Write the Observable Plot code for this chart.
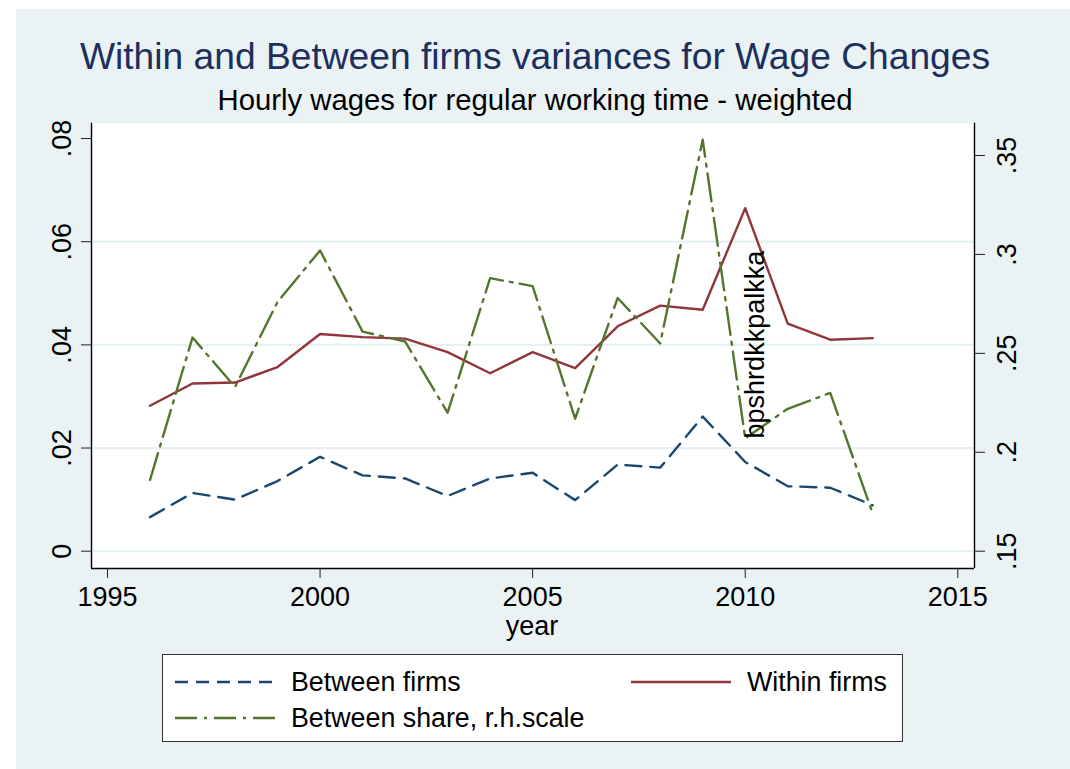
<!DOCTYPE html>
<html>
<head>
<meta charset="utf-8">
<script src="https://cdn.jsdelivr.net/npm/d3@7"></script>
<script src="https://cdn.jsdelivr.net/npm/@observablehq/plot@0.6"></script>
<style>
  body { margin: 0; background: #ffffff; }
  #wrap { position: relative; width: 1070px; height: 769px; overflow: hidden;
          font-family: Arial, "Liberation Sans", Helvetica, sans-serif; color: #000; }
  #bg { position: absolute; left: 16px; top: 9px; right: 0; bottom: 0; background: #eaf2f3; }
  #chart { position: absolute; left: 0; top: 0; }
  .t { position: absolute; white-space: nowrap; line-height: 1; }
  #title { left: 0; width: 1070px; text-align: center; top: 38px; font-size: 37.2px; color: #1c2f5e; }
  #subtitle { left: 0; width: 1070px; text-align: center; top: 85px; font-size: 29.3px; }
  #xlabel { left: 432px; width: 200px; text-align: center; top: 613px; font-size: 27px; }
  #legend { position: absolute; left: 162px; top: 654px; width: 741px; height: 88px;
            background: #fff; border: 1px solid #333; box-sizing: border-box; }
  .lt { position: absolute; font-size: 26.8px; line-height: 1; white-space: nowrap; }
  .sw { position: absolute; }
</style>
</head>
<body>
<div id="wrap">
  <div id="bg"></div>
  <div id="chart"></div>
  <div id="title" class="t"></div>
  <div id="subtitle" class="t"></div>
  <div id="xlabel" class="t"></div>
  <div id="legend"></div>
</div>
<script>
// ---- data ----
const years = [1996, 1997, 1998, 1999, 2000, 2001, 2002, 2003, 2004, 2005, 2006, 2007, 2008, 2009, 2010, 2011, 2012, 2013];
const betweenFirms = [0.0066, 0.0113, 0.0100, 0.0136, 0.0183, 0.0147, 0.0141, 0.0107, 0.0141, 0.0152, 0.0099, 0.0168, 0.0162, 0.0261, 0.0173, 0.0126, 0.0123, 0.0089];
const withinFirms  = [0.0282, 0.0325, 0.0327, 0.0357, 0.0421, 0.0415, 0.0412, 0.0386, 0.0345, 0.0386, 0.0355, 0.0436, 0.0476, 0.0468, 0.0665, 0.0441, 0.0410, 0.0413];
const betweenShare = [0.186, 0.258, 0.233, 0.276, 0.302, 0.261, 0.256, 0.220, 0.288, 0.284, 0.217, 0.278, 0.255, 0.358, 0.207, 0.222, 0.230, 0.169];

const seriesNames = ["Between firms", "Within firms", "Between share, r.h.scale"];
const seriesColors = ["#1a476f", "#90353b", "#55752f"];
const xTicks = [1995, 2000, 2005, 2010, 2015];
const leftTicks = [0, 0.02, 0.04, 0.06, 0.08];
const leftTickLabels = ["0", ".02", ".04", ".06", ".08"];
const rightTicks = [0.15, 0.2, 0.25, 0.3, 0.35];
const rightTickLabels = [".15", ".2", ".25", ".3", ".35"];
const gridTicks = [0, 0.02, 0.04, 0.06];
const annotationYear = 2010;
const annotationText = "bpshrdkkpalkka";
const titleText = "Within and Between firms variances for Wage Changes";
const subtitleText = "Hourly wages for regular working time - weighted";
const xLabelText = "year";

// ---- scales ----
const xDomain = [1994.624, 2015.393];
const yDomain = [-0.003354, 0.08297];
// right-hand scale mapped onto left-hand units
const rightBase = 0.15, rightFactor = 0.38353;
const toLeft = v => (v - rightBase) * rightFactor;
const rightTicksLeft = rightTicks.map(toLeft);

const rows = years.map((yr, i) => ({
  year: yr, between: betweenFirms[i], within: withinFirms[i], share: toLeft(betweenShare[i])
}));
const annotationRow = rows[years.indexOf(annotationYear)];

const font = 'Arial, "Liberation Sans", Helvetica, sans-serif';

const chart = Plot.plot({
  width: 1070, height: 769,
  marginTop: 122.7, marginBottom: 201, marginLeft: 91, marginRight: 96,
  style: { background: "transparent", fontFamily: font, fontSize: "27px", color: "#000", overflow: "visible" },
  x: { domain: xDomain },
  y: { domain: yDomain },
  marks: [
    Plot.frame({ fill: "white", stroke: "none" }),
    Plot.gridY(gridTicks, { stroke: "#e6eff2", strokeOpacity: 1, strokeWidth: 2.2 }),
    Plot.ruleX([xDomain[0]], { stroke: "#000", strokeWidth: 1.4 }),
    Plot.ruleX([xDomain[1]], { stroke: "#000", strokeWidth: 1.4 }),
    Plot.ruleY([yDomain[0]], { stroke: "#000", strokeWidth: 1.4 }),
    Plot.axisX(xTicks, { anchor: "bottom", tickSize: 10, tickPadding: 8, fontSize: 27,
      tickFormat: d => String(d), label: null, stroke: "#222" }),
    Plot.axisY(leftTicks, { anchor: "left", tickSize: 10, tickPadding: 11, tickRotate: -90, fontSize: 27,
      tickFormat: d => leftTickLabels[leftTicks.indexOf(d)], label: null, stroke: "#222" }),
    Plot.axisY(rightTicksLeft, { anchor: "right", tickSize: 10, tickPadding: 12, tickRotate: -90, lineAnchor: "top",
      fontSize: 27, tickFormat: d => rightTickLabels[rightTicksLeft.indexOf(d)], label: null, stroke: "#222" }),
    Plot.line(rows, { x: "year", y: "between", stroke: seriesColors[0], strokeWidth: 2.4, strokeDasharray: "16,9" }),
    Plot.line(rows, { x: "year", y: "within", stroke: seriesColors[1], strokeWidth: 2.4 }),
    Plot.line(rows, { x: "year", y: "share", stroke: seriesColors[2], strokeWidth: 2.4, strokeDasharray: "28,7,3,7" }),
    Plot.text([annotationRow], { x: "year", y: "share", text: () => annotationText, rotate: -90,
      textAnchor: "start", lineAnchor: "top", fontSize: 27, fill: "#000" })
  ]
});
document.getElementById("chart").appendChild(chart);

document.getElementById("title").textContent = titleText;
document.getElementById("subtitle").textContent = subtitleText;
document.getElementById("xlabel").textContent = xLabelText;

// ---- legend ----
const legend = document.getElementById("legend");
const legendItems = [
  { name: seriesNames[0], color: seriesColors[0], dash: "13,8", sx: 12, tx: 128, ty: 14, ly: 27 },
  { name: seriesNames[1], color: seriesColors[1], dash: null,   sx: 468, tx: 584, ty: 14, ly: 27 },
  { name: seriesNames[2], color: seriesColors[2], dash: "22,7,3,7", sx: 12, tx: 128, ty: 50, ly: 63 }
];
for (const it of legendItems) {
  const svg = d3.create("svg").attr("class", "sw").attr("width", 102).attr("height", 10)
    .style("left", it.sx + "px").style("top", (it.ly - 5) + "px");
  svg.append("line").attr("x1", 0).attr("x2", 100).attr("y1", 5).attr("y2", 5)
    .attr("stroke", it.color).attr("stroke-width", 2.4)
    .attr("stroke-dasharray", it.dash);
  legend.appendChild(svg.node());
  const t = document.createElement("div");
  t.className = "lt";
  t.style.left = it.tx + "px";
  t.style.top = it.ty + "px";
  t.textContent = it.name;
  legend.appendChild(t);
}
</script>
</body>
</html>
